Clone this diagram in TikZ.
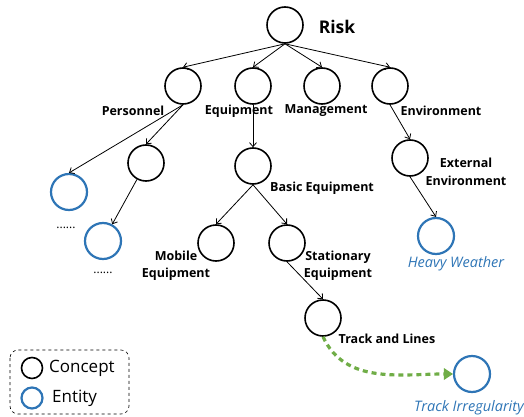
\documentclass[tikz,border=0pt]{standalone}
\usepackage{fontspec}
\setmainfont{Open Sans}
\usetikzlibrary{arrows.meta}
\definecolor{entblue}{RGB}{46,117,182}
\definecolor{relgreen}{RGB}{112,173,71}
\begin{document}
\begin{tikzpicture}[x=1pt,y=-1pt,
  concept/.style={circle,draw=black,line width=1.6pt,fill=white,minimum size=36pt,inner sep=0pt},
  entity/.style={circle,draw=entblue,line width=2.2pt,fill=white,minimum size=36pt,inner sep=0pt},
  lbl/.style={font=\fontsize{12.5}{17.5}\selectfont\bfseries,align=center,inner sep=0pt},
  elbl/.style={font=\fontsize{14.5}{16}\selectfont\itshape,text=entblue,inner sep=0pt},
  edge/.style={line width=0.8pt,-{Straight Barb[length=4pt,width=7pt]}},
  rel/.style={line width=3.2pt,relgreen,dash pattern=on 5pt off 4pt,-{Triangle[length=9pt,width=12pt,line width=0pt]}}
]
\useasboundingbox (0,0) rectangle (524,417);
% concepts
\node[concept] (risk) at (285,25) {};
\node[concept] (pers) at (183,86) {};
\node[concept] (equip) at (253,86) {};
\node[concept] (mgmt) at (322,86) {};
\node[concept] (env) at (390,86) {};
\node[concept] (persc) at (146,163) {};
\node[concept] (basic) at (253,166) {};
\node[concept] (mobile) at (216,243) {};
\node[concept] (stat) at (287,243) {};
\node[concept] (ext) at (410,158) {};
\node[concept] (track) at (323,318) {};
% entities
\node[entity] (ent1) at (69,192) {};
\node[entity] (ent2) at (103,241) {};
\node[entity] (heavy) at (436,236) {};
\node[entity] (irr) at (472,374) {};
% labels
\node[lbl,font=\fontsize{17.5}{19}\selectfont\bfseries] (lrisk) at (337,27) {Risk};
\node[lbl] (lpers) at (133,111) {Personnel};
\node[lbl] (lequip) at (239,111) {Equipment};
\node[lbl] (lmgmt) at (326,111) {Management};
\node[lbl] (lenv) at (441,111) {Environment};
\node[lbl] (lbasic) at (322,188) {Basic Equipment};
\node[lbl] (lmobile) at (176,266) {Mobile\\Equipment};
\node[lbl] (lstat) at (338,266) {Stationary\\Equipment};
\node[lbl] (lext) at (466,172) {External\\Environment};
\node[lbl] (ltrack) at (387,339) {Track and Lines};
\node[elbl] (lheavy) at (456,264) {Heavy Weather};
\node[elbl] (lirr) at (469,408) {Track Irregularity};
\node[inner sep=0pt,font=\fontsize{12}{13}\selectfont] (dots1) at (66,228) {......};
\node[inner sep=0pt,font=\fontsize{12}{13}\selectfont] (dots2) at (103,273) {......};
% edges
\draw[edge] (risk.south) -- (pers.north);
\draw[edge] (risk.south) -- (equip.north);
\draw[edge] (risk.south) -- (mgmt.north);
\draw[edge] (risk.south) -- (env.north);
\draw[edge] (pers.south) -- (ent1.north);
\draw[edge] (pers.south) -- (persc.north);
\draw[edge] (persc) -- (ent2);
\draw[edge] (equip.south) -- (basic.north);
\draw[edge] (basic.south) -- (mobile.north);
\draw[edge] (basic.south) -- (stat.north);
\draw[edge] (stat.south) -- (track.north);
\draw[edge] (env.south) -- (ext.north);
\draw[edge] (ext.south) -- (heavy.north);
\draw[rel] (track.south) to[out=-65,in=180] (irr.west);
% legend
\draw[dashed,line width=0.6pt,rounded corners=8pt] (10,350) rectangle (129,414);
\node[circle,draw=black,line width=1.6pt,minimum size=21pt,inner sep=0pt] (legc) at (32,368) {};
\node[circle,draw=entblue,line width=2.2pt,minimum size=21pt,inner sep=0pt] (lege) at (32,398) {};
\node[anchor=west,inner sep=0pt,font=\fontsize{17}{19}\selectfont] (legct) at (49,368) {Concept};
\node[anchor=west,inner sep=0pt,font=\fontsize{17}{19}\selectfont] (leget) at (52,398) {Entity};
\end{tikzpicture}
\end{document}
